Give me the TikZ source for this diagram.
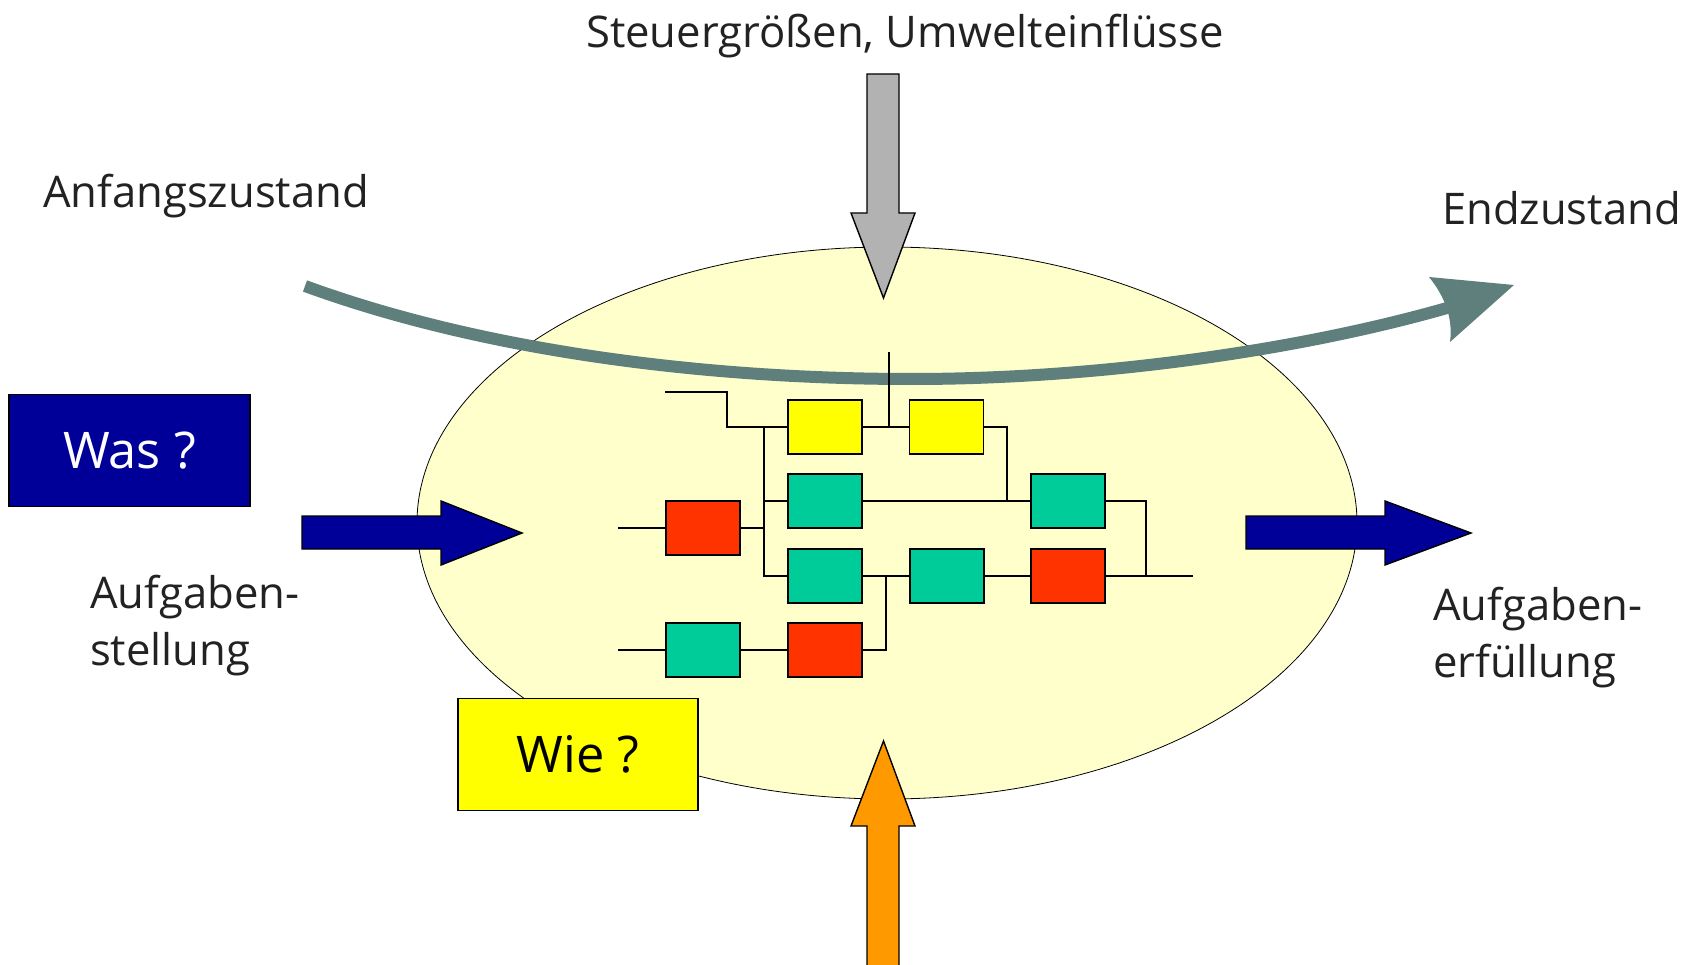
\documentclass[tikz,border=0pt]{standalone}
\usepackage{fontspec}
\usetikzlibrary{shapes.geometric}
\setmainfont{Open Sans}
\definecolor{tealc}{HTML}{5F7F7D}
\definecolor{greenc}{HTML}{00CC99}
\definecolor{redc}{HTML}{FF3300}
\definecolor{yellowc}{HTML}{FFFF00}
\definecolor{creamc}{HTML}{FFFFCC}
\definecolor{bluec}{HTML}{000099}
\definecolor{greyc}{HTML}{B2B2B2}
\definecolor{orangec}{HTML}{FF9900}
\definecolor{textc}{HTML}{222222}
\tikzset{
  block/.style={draw=black,line width=1.9pt,minimum width=74pt,minimum height=54pt,inner sep=0pt,outer sep=0pt},
  yblock/.style={block,fill=yellowc},
  gblock/.style={block,fill=greenc},
  rblock/.style={block,fill=redc},
  wire/.style={draw=black,line width=1.4pt},
  bigarrow/.style={draw=black,line width=1.4pt,line join=miter},
  label/.style={text=textc,inner sep=0pt,outer sep=0pt,anchor=base west,font=\fontsize{43.6}{43.6}\selectfont},
  infobox/.style={draw=black,line width=1.4pt,inner sep=0pt,outer sep=0pt,font=\fontsize{50.5}{50.5}\selectfont}
}
\begin{document}
\begin{tikzpicture}[x=1pt,y=-1pt]
\useasboundingbox (0,0) rectangle (1694,965);
% Ellipse
\node[ellipse,draw=black,line width=0.8pt,fill=creamc,minimum width=940pt,minimum height=552pt,inner sep=0pt,outer sep=0pt] (sys) at (887,523) {};
% Curved arrow
\draw[tealc,line width=12pt] (305,286) .. controls (480,350) and (700,379) .. (912,379) .. controls (1100,379) and (1300,350) .. (1447,308);
\fill[tealc] (1429,277) -- (1514,285) -- (1450,342) .. controls (1453,320) and (1446,298) .. (1429,277) -- cycle;
% Blocks
\node[yblock] (y1) at (825,427) {};
\node[yblock] (y2) at (946.5,427) {};
\node[gblock] (g1) at (825,501) {};
\node[gblock] (g2) at (1068,501) {};
\node[rblock] (r1) at (703,528) {};
\node[gblock] (g3) at (825,576) {};
\node[gblock] (g4) at (947,576) {};
\node[rblock] (r2) at (1068,576) {};
\node[gblock] (g5) at (703,650) {};
\node[rblock] (r3) at (825,650) {};
% Free ends
\coordinate (topstart) at (665,392);
\coordinate (topfeed) at (889,352);
\coordinate (bus) at (764,427);
\coordinate (stub1) at (618,528);
\coordinate (stub2) at (618,650);
\coordinate (outend) at (1193,576);
\coordinate (join) at (886,576);
% Connectors
\draw[wire] (topstart) -- (727,392) -- (727,427) -- (y1.west);
\draw[wire] (bus) |- (g3.west);
\draw[wire] (r1.east) -- (764,528);
\draw[wire] (764,501) -- (g1.west);
\draw[wire] (y1.east) -- (y2.west);
\draw[wire] (topfeed) -- (889,427);
\draw[wire] (y2.east) -- (1007,427) -- (1007,501) -- (g2.west);
\draw[wire] (g1.east) -- (g2.west);
\draw[wire] (g2.east) -- (1146,501) -- (1146,576);
\draw[wire] (g3.east) -- (g4.west);
\draw[wire] (g4.east) -- (r2.west);
\draw[wire] (r2.east) -- (outend);
\draw[wire] (stub1) -- (r1.west);
\draw[wire] (stub2) -- (g5.west);
\draw[wire] (g5.east) -- (r3.west);
\draw[wire] (r3.east) -- (886,650) -- (join);
% Arrows
\draw[bigarrow,fill=bluec] (302,516) -- (441,516) -- (441,501) -- (522,533) -- (441,565) -- (441,549) -- (302,549) -- cycle;
\draw[bigarrow,fill=bluec] (1246,516) -- (1385,516) -- (1385,501) -- (1471,533) -- (1385,565) -- (1385,549) -- (1246,549) -- cycle;
\draw[bigarrow,fill=greyc] (867,74) -- (899,74) -- (899,213) -- (915,213) -- (883.5,298) -- (851,213) -- (867,213) -- cycle;
\draw[bigarrow,fill=orangec] (867,966) -- (899,966) -- (899,826) -- (915,826) -- (883.5,741) -- (851,826) -- (867,826) -- cycle;
% Boxes
\node[infobox,fill=bluec,text=white,minimum width=241pt,minimum height=112pt] (was) at (129.5,450.5) {Was ?};
\node[infobox,fill=yellowc,text=black,minimum width=240pt,minimum height=112pt] (wie) at (578,754.5) {Wie ?};
% Labels
\node[label,anchor=base] (steuer) at (905,48) {Steuergrößen, Umwelteinflüsse};
\node[label] (anf) at (43,208) {Anfangszustand};
\node[label] (end) at (1442,225) {Endzustand};
\node[label] (auf1a) at (90,608) {Aufgaben-};
\node[label] (auf1b) at (90,665) {stellung};
\node[label] (auf2a) at (1433,620) {Aufgaben-};
\node[label] (auf2b) at (1433,677) {erfüllung};
\end{tikzpicture}
\end{document}
